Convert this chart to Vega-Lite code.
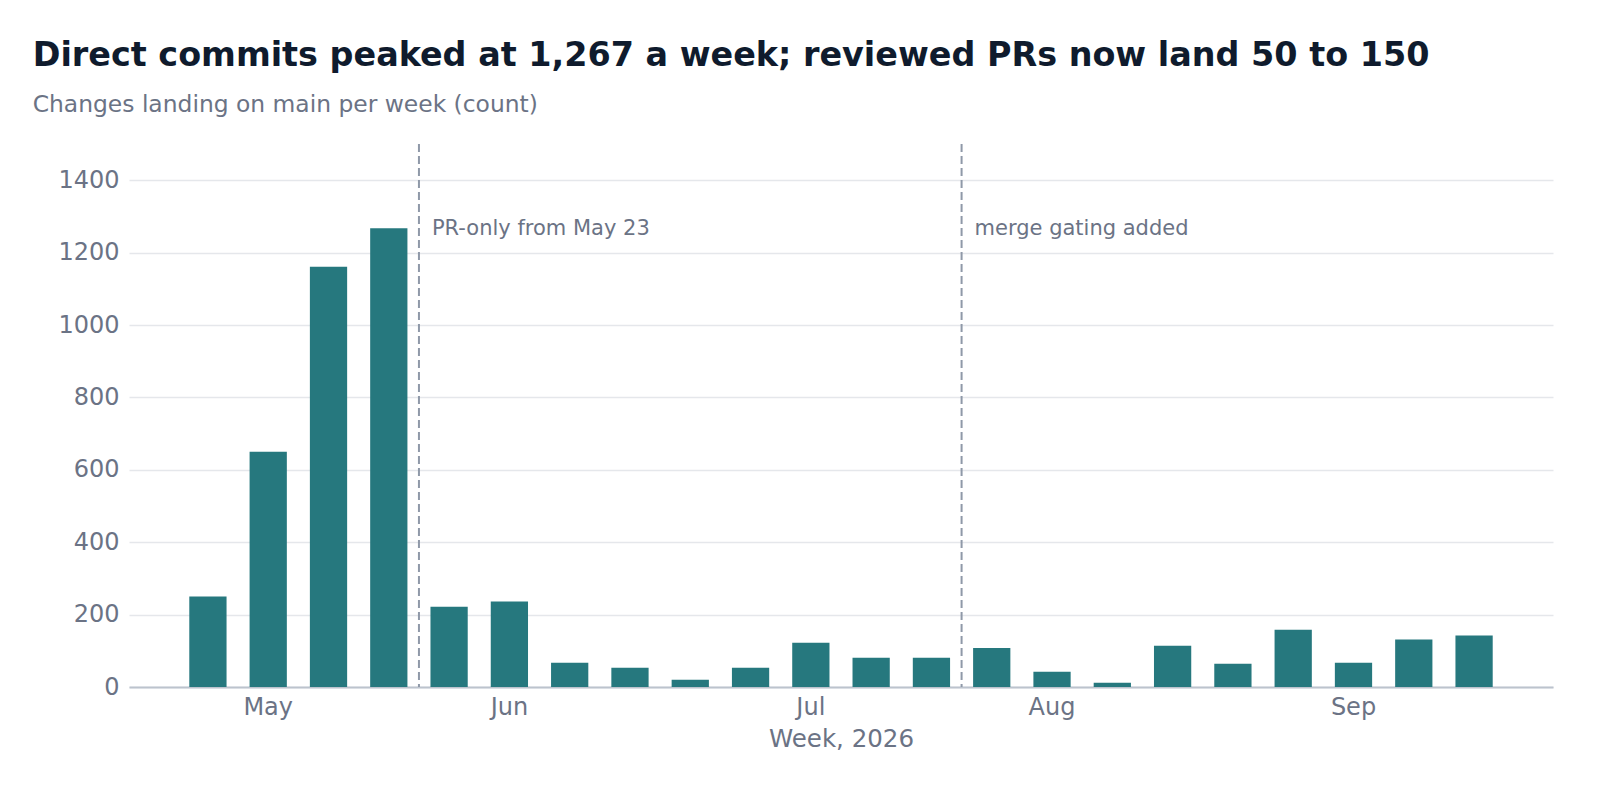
{
  "$schema": "https://vega.github.io/schema/vega-lite/v6.json",
  "width": 1424,
  "height": 543,
  "padding": {"left": 32, "top": 39, "right": 48, "bottom": 40},
  "title": {
    "text": "Direct commits peaked at 1,267 a week; reviewed PRs now land 50 to 150",
    "subtitle": "Changes landing on main per week (count)",
    "anchor": "start",
    "frame": "bounds",
    "fontSize": 33.4,
    "fontWeight": "bold",
    "color": "#0f1b2d",
    "subtitleFontSize": 23.4,
    "subtitleColor": "#6b7385",
    "subtitlePadding": 20,
    "offset": 26
  },
  "datasets": {
    "weekly": [
      {"week": "2026-04-27", "changes": 250},
      {"week": "2026-05-04", "changes": 650},
      {"week": "2026-05-11", "changes": 1161},
      {"week": "2026-05-18", "changes": 1267},
      {"week": "2026-05-25", "changes": 222},
      {"week": "2026-06-01", "changes": 236},
      {"week": "2026-06-08", "changes": 67},
      {"week": "2026-06-15", "changes": 53},
      {"week": "2026-06-22", "changes": 20},
      {"week": "2026-06-29", "changes": 53},
      {"week": "2026-07-06", "changes": 122},
      {"week": "2026-07-13", "changes": 81},
      {"week": "2026-07-20", "changes": 81},
      {"week": "2026-07-27", "changes": 108},
      {"week": "2026-08-03", "changes": 42},
      {"week": "2026-08-10", "changes": 12},
      {"week": "2026-08-17", "changes": 114},
      {"week": "2026-08-24", "changes": 64},
      {"week": "2026-08-31", "changes": 158},
      {"week": "2026-09-07", "changes": 67},
      {"week": "2026-09-14", "changes": 131},
      {"week": "2026-09-21", "changes": 142}
    ],
    "events": [
      {"week": "2026-05-25", "note": "PR-only from May 23"},
      {"week": "2026-07-27", "note": "merge gating added"}
    ]
  },
  "layer": [
    {
      "data": {"name": "weekly"},
      "mark": {"type": "bar", "color": "#26787e"},
      "encoding": {
        "x": {
          "field": "week",
          "timeUnit": "utcyearmonthdate",
          "type": "ordinal",
          "title": "Week, 2026",
          "scale": {"paddingInner": 0.382, "paddingOuter": 1.088, "round": false},
          "axis": {
            "labelExpr": "utcdate(datum.value) <= 7 ? utcFormat(datum.value, '%b') : ''",
            "labelAngle": 0,
            "ticks": false,
            "labelPadding": 8,
            "titlePadding": 8
          }
        },
        "y": {
          "field": "changes",
          "type": "quantitative",
          "title": null,
          "scale": {"domain": [0, 1500], "nice": false},
          "axis": {
            "values": [0, 200, 400, 600, 800, 1000, 1200, 1400],
            "format": "d",
            "domain": false,
            "ticks": false,
            "labelPadding": 10,
            "minExtent": 96.3,
            "maxExtent": 96.3
          }
        }
      }
    },
    {
      "data": {"name": "events"},
      "mark": {"type": "rule", "color": "#8f99a8", "strokeWidth": 2, "strokeDash": [8, 4]},
      "encoding": {
        "x": {"field": "week", "timeUnit": "utcyearmonthdate", "type": "ordinal", "bandPosition": -0.309}
      }
    },
    {
      "data": {"name": "events"},
      "mark": {"type": "text", "align": "left", "baseline": "middle", "dx": 13, "fontSize": 21, "color": "#6b7385"},
      "encoding": {
        "x": {"field": "week", "timeUnit": "utcyearmonthdate", "type": "ordinal", "bandPosition": -0.309},
        "y": {"datum": 1265, "type": "quantitative"},
        "text": {"field": "note"}
      }
    }
  ],
  "config": {
    "font": "DejaVu Sans",
    "view": {"stroke": null},
    "axis": {
      "labelFont": "DejaVu Sans",
      "titleFont": "DejaVu Sans",
      "labelFontSize": 24,
      "titleFontSize": 24.5,
      "titleFontWeight": "normal",
      "labelColor": "#6b7385",
      "titleColor": "#6b7385",
      "gridColor": "#e5e7eb",
      "gridWidth": 1.5,
      "domainColor": "#bcc3cd",
      "domainWidth": 2
    },
    "axisX": {"grid": false},
    "text": {"font": "DejaVu Sans"}
  }
}
